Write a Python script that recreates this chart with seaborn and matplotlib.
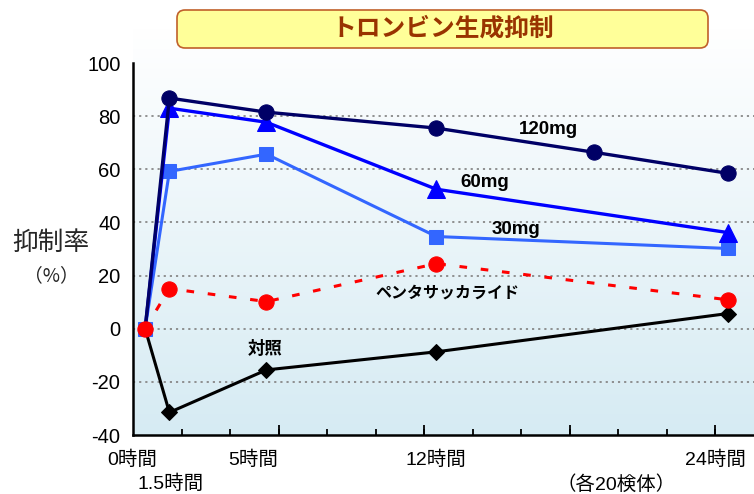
import numpy as np
import matplotlib
matplotlib.use("Agg")
import matplotlib.pyplot as plt
import matplotlib.patches as mpatches
from matplotlib.transforms import IdentityTransform, blended_transform_factory
from matplotlib.colors import LinearSegmentedColormap
import seaborn as sns

sns.set_theme(style="white")
plt.rcParams['font.family'] = ['Liberation Sans', 'Noto Sans CJK JP', 'DejaVu Sans']

# ---- data (x = plotted time position, hours) ----
x_main = [0, 1, 5, 12, 24]
x_120 = [0, 1, 5, 12, 18.5, 24]
y_120mg = [0, 86.8, 81.5, 75.5, 66.4, 58.5]
y_60mg = [0, 83.0, 77.7, 52.5, 36.2]
y_30mg = [0, 59.2, 65.7, 34.7, 30.2]
y_penta = [0, 15.1, 10.2, 24.5, 10.9]
y_control = [0, -31.5, -15.5, -8.7, 5.7]

xlab_pos = [-0.55, 4.45, 12, 23.5]
xlab_labels = ['0時間', '5時間', '12時間', '24時間']
xsub_pos = [1.05, 19.4]
xsub_labels = ['1.5時間', '（各20検体）']
yticks = [-40, -20, 0, 20, 40, 60, 80, 100]

title = 'トロンビン生成抑制'
ylabel = '抑制率'
yunit = '（%）'

W, H = 754, 494
fig = plt.figure(figsize=(W / 100, H / 100), dpi=100)
fig.patch.set_facecolor('white')

# gradient background
bg = fig.add_axes([133 / W, 59 / H, 621 / W, (435 - 28) / H])
grad = np.linspace(0, 1, 256).reshape(-1, 1)
cmap = LinearSegmentedColormap.from_list('bg', ['#FFFFFF', '#D6EBF3'])
bg.imshow(grad, aspect='auto', cmap=cmap, extent=[0, 1, 0, 1], origin='upper')
bg.axis('off')
bg.set_zorder(0)

ax = fig.add_axes([133 / W, 59 / H, 621 / W, (435 - 63) / H])
ax.set_zorder(1)
ax.patch.set_alpha(0)

ax.set_xlim(-0.5, 25.09)
ax.set_ylim(-40, 100)

# series
sns.lineplot(x=x_main, y=y_control, ax=ax, color='black', linewidth=2.2,
             marker='D', markersize=8, markeredgecolor='black',
             markevery=list(range(1, len(x_main))), sort=False)
sns.lineplot(x=x_main, y=y_30mg, ax=ax, color='#3366FF', linewidth=2.2,
             marker='s', markersize=10.5, markeredgecolor='#3366FF', sort=False)
sns.lineplot(x=x_main, y=y_60mg, ax=ax, color='#0000FF', linewidth=2.4,
             marker='^', markersize=13, markeredgecolor='#0000FF',
             markevery=list(range(1, len(x_main))), sort=False)
sns.lineplot(x=x_120, y=y_120mg, ax=ax, color='#000066', linewidth=2.4,
             marker='o', markersize=11, markeredgecolor='#000066',
             markevery=list(range(1, len(x_120))), sort=False)
sns.lineplot(x=x_main, y=y_penta, ax=ax, color='#FF0000', linewidth=2.2,
             linestyle=(0, (2.5, 4.5)), marker='o', markersize=11,
             markeredgecolor='#FF0000', sort=False)

# series labels
lab_kw = dict(fontweight='bold', color='black', ha='center', va='center')
ax.text(16.6, 74.8, '120mg', fontsize=13.5, **lab_kw)
ax.text(14.0, 55.0, '60mg', fontsize=13.5, **lab_kw)
ax.text(15.3, 37.5, '30mg', fontsize=13.5, **lab_kw)
ax.text(12.45, 13.5, 'ペンタサッカライド', fontsize=11.5, **lab_kw)
ax.text(4.95, -7.3, '対照', fontsize=12.5, **lab_kw)

# axes styling
for s in ['top', 'right']:
    ax.spines[s].set_visible(False)
for s in ['left', 'bottom']:
    ax.spines[s].set_color('black')
    ax.spines[s].set_linewidth(1.8)

ax.set_yticks(yticks)
ax.set_yticklabels([str(v) for v in yticks], fontsize=14.5)
ax.tick_params(axis='y', length=0, pad=9, colors='black')

ax.set_xticks([])
ax.set_xticks(np.arange(1.5, 25, 2), minor=True)
ax.tick_params(axis='x', which='minor', bottom=True, direction='in', length=4,
               width=1.3, color='black')
sec = ax.secondary_xaxis('bottom')
sec.set_xticks(np.arange(5.5, 25, 6))
sec.set_xticklabels([])
sec.tick_params(axis='x', bottom=True, direction='in', length=7, width=1.3, color='black')
sec.spines['bottom'].set_visible(False)

trans = blended_transform_factory(ax.transData, ax.transAxes)
for xp, lab in zip(xlab_pos, xlab_labels):
    ax.text(xp, -0.067, lab, transform=trans, fontsize=14, ha='center', va='center',
            color='black', clip_on=False)
for xp, lab in zip(xsub_pos, xsub_labels):
    ax.text(xp, -0.132, lab, transform=trans, fontsize=14, ha='center', va='center',
            color='black', clip_on=False)

ax.grid(axis='y', linestyle=(0, (1.2, 2.2)), color='#888888', linewidth=1.3)
ax.grid(axis='x', visible=False)
gl = ax.get_ygridlines()
gl[0].set_visible(False)
gl[-1].set_visible(False)

ax.set_xlabel('')
ax.set_ylabel('')

fig.text(51 / W, 1 - 243 / H, ylabel, fontsize=18.5, ha='center', va='center',
         family=['Noto Sans CJK JP', 'DejaVu Sans'])
fig.text(51 / W, 1 - 276 / H, yunit, fontsize=13.5, ha='center', va='center',
         family=['Noto Sans CJK JP', 'DejaVu Sans'])

# title box
box = mpatches.FancyBboxPatch((177, H - 48), 531, 38,
                              boxstyle='round,pad=0,rounding_size=8',
                              transform=IdentityTransform(),
                              facecolor='#FFFF99', edgecolor='#C0602A', linewidth=1.2)
fig.add_artist(box)
fig.text(443 / W, 1 - 29 / H, title, fontsize=17.8, fontweight='bold', color='#993300',
         ha='center', va='center', family=['Noto Sans CJK JP', 'DejaVu Sans'])

fig.savefig('out.png', dpi=100)
